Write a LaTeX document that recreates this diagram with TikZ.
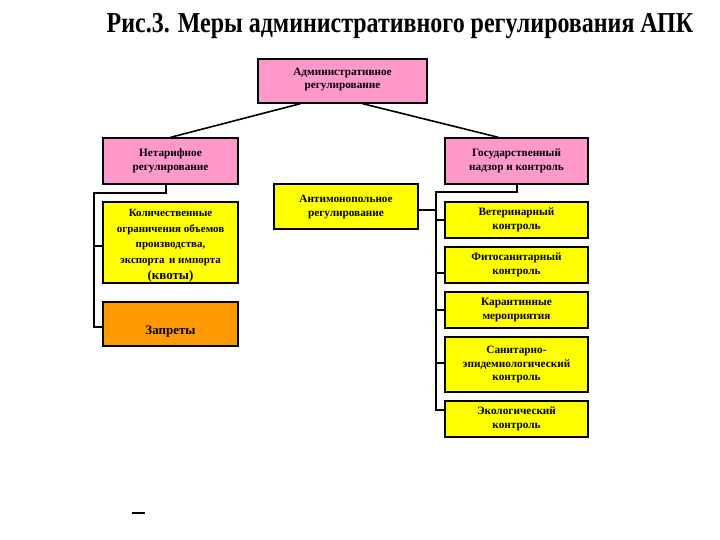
\documentclass[tikz,border=0pt]{standalone}
\usepackage{fontspec}
\setmainfont{Liberation Serif}
\newfontfamily\titlefont[FakeStretch=0.83]{Liberation Serif}
\usetikzlibrary{calc}
\definecolor{pinkbox}{HTML}{FF99CC}
\definecolor{yellowbox}{HTML}{FFFF00}
\definecolor{orangebox}{HTML}{FF9900}
\tikzset{
  box/.style={draw=black, line width=1.3bp, align=center, inner sep=0pt,
    font=\fontsize{11.3}{13.5}\selectfont\bfseries},
  pinkb/.style={box, fill=pinkbox},
  yellowb/.style={box, fill=yellowbox},
  orangeb/.style={box, fill=orangebox},
  conn/.style={line width=1.6bp, black},
}
\begin{document}
\begin{tikzpicture}[x=1bp, y=-1bp]
\useasboundingbox (0,0) rectangle (720,540);
\fill[white] (0,0) rectangle (720,540);
% title
\node[font=\titlefont\bfseries\fontsize{29}{32}\selectfont, anchor=base] (title) at (400,33) {Рис.3. Меры административного регулирования АПК};
% boxes
\node[pinkb, minimum width=169bp, minimum height=44bp] (top) at (342.5,81) {\raisebox{1.5bp}[\height][\depth]{\begin{tabular}{@{}c@{}}Административное\\[-0.5bp]регулирование\end{tabular}}};
\node[pinkb, minimum width=135bp, minimum height=46bp] (net) at (170.5,161) {Нетарифное\\регулирование};
\node[pinkb, minimum width=143bp, minimum height=46bp] (gos) at (516.5,161) {Государственный\\надзор и контроль};
\node[yellowb, minimum width=135bp, minimum height=81bp] (kol) at (170.5,242.5) {\raisebox{-2.5bp}[\height][\depth]{\fontsize{11}{15}\selectfont\bfseries\begin{tabular}{@{}c@{}}Количественные\\[0.6bp]ограничения объемов\\[0.6bp]производства,\\[0.6bp]экспорта \,и импорта\\[0.6bp]{\fontsize{13}{15}\selectfont (квоты)}\end{tabular}}};
\node[orangeb, minimum width=135bp, minimum height=44bp] (zap) at (170.5,324) {};
\node[font=\fontsize{13}{15}\selectfont\bfseries, anchor=base] (zaptext) at (170.5,334) {Запреты};
\node[yellowb, minimum width=144bp, minimum height=45bp] (anti) at (346,206.5) {\begin{tabular}{@{}c@{}}Антимонопольное\\[0.5bp]регулирование\end{tabular}};
\node[yellowb, minimum width=143bp, minimum height=36bp] (vet) at (516.5,220) {Ветеринарный\\контроль};
\node[yellowb, minimum width=143bp, minimum height=36bp] (fito) at (516.5,265) {Фитосанитарный\\контроль};
\node[yellowb, minimum width=143bp, minimum height=36bp] (kar) at (516.5,310) {Карантинные\\мероприятия};
\node[yellowb, minimum width=143bp, minimum height=55bp] (san) at (516.5,364.5) {Санитарно-\\эпидемиологический\\контроль};
\node[yellowb, minimum width=143bp, minimum height=36bp] (eko) at (516.5,419) {Экологический\\контроль};
% connectors from top
\draw[conn] ([xshift=-42bp]top.south) -- ([xshift=0bp]net.north);
\draw[conn] ([xshift=20bp]top.south) -- ([xshift=-18bp]gos.north);
% left bracket
\coordinate (lt) at (94,193);
\coordinate (lb) at (94,327);
\coordinate (l1) at (94,246);
\draw[conn] ([xshift=-4.5bp]net.south) |- (lt) -- (lb) -- (zap.west |- lb);
\draw[conn] (l1) -- (kol.west |- l1);
% right bracket
\coordinate (rt) at (436,192);
\coordinate (rb) at (436,410);
\draw[conn] ([xshift=0.5bp]gos.south) |- (rt) -- (rb) -- (eko.west |- rb);
\coordinate (r1) at (436,220);
\coordinate (r2) at (436,273);
\coordinate (r3) at (436,310);
\coordinate (r4) at (436,363);
\draw[conn] (r1) -- (vet.west |- r1);
\draw[conn] (r2) -- (fito.west |- r2);
\draw[conn] (r3) -- (kar.west |- r3);
\draw[conn] (r4) -- (san.west |- r4);
\coordinate (ra) at (436,210);
\draw[conn] (anti.east |- ra) -- (ra);
% stray dash
\coordinate (d1) at (132,513);
\coordinate (d2) at (145,513);
\draw[line width=1.2bp] (d1) -- (d2);
\end{tikzpicture}
\end{document}
